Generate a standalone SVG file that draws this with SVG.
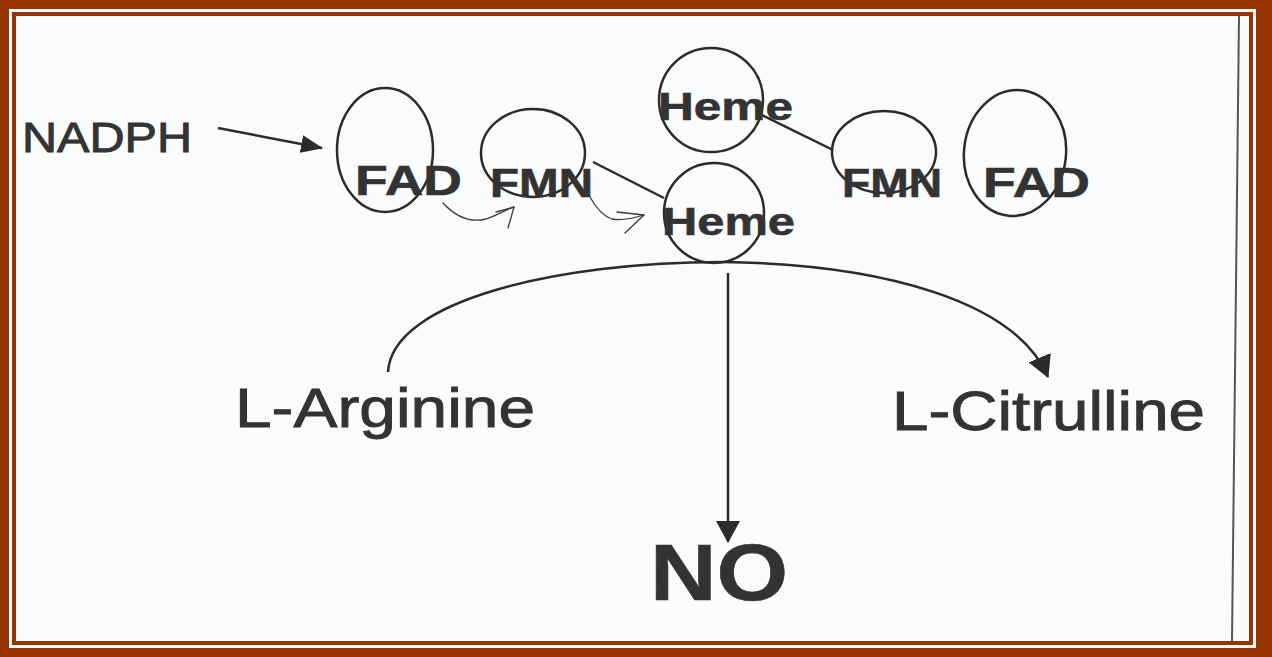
<svg xmlns="http://www.w3.org/2000/svg" width="1272" height="657" viewBox="0 0 1272 657">
<style>
.lbl{font-family:"Liberation Sans",Arial,sans-serif;fill:#333333;stroke:#333333;stroke-width:0.9}
.b{font-weight:bold;stroke-width:0.6}
.ring{fill:none;stroke:#2b2b2b;stroke-width:2.5}
.ln{fill:none;stroke:#2b2b2b;stroke-width:2.5}
.thin{fill:none;stroke:#3a3a3a;stroke-width:1.3;stroke-linecap:round;stroke-linejoin:round}
</style>
<defs>
<marker id="ah" viewBox="0 0 22 24" refX="21" refY="12" markerWidth="22" markerHeight="24" markerUnits="userSpaceOnUse" orient="auto">
<path d="M0,0 L22,12 L0,24 z" fill="#2b2b2b"/>
</marker>
<marker id="ahs" viewBox="0 0 22 18" refX="21" refY="9" markerWidth="22" markerHeight="18" markerUnits="userSpaceOnUse" orient="auto">
<path d="M0,0 L22,9 L0,18 z" fill="#2b2b2b"/>
</marker>
</defs>
<rect x="0" y="0" width="1272" height="657" fill="#993300"/>
<rect x="9" y="9" width="1247" height="639" fill="#ffffff"/>
<rect x="14" y="14" width="1237" height="629" fill="#f9fbfc" stroke="#993300" stroke-width="4"/>
<line x1="1239" y1="16" x2="1232" y2="641" stroke="#555555" stroke-width="2"/>

<g id="connectors">
<line class="ln" x1="218" y1="128" x2="322" y2="148" marker-end="url(#ahs)"/>
<line class="ln" x1="593" y1="162" x2="664" y2="198"/>
<line class="ln" x1="762" y1="115" x2="833" y2="150"/>
<path class="ln" d="M388,372 C392,300 560,262 722,262 C880,264 1015,300 1048,377" marker-end="url(#ah)"/>
<line class="ln" x1="728" y1="273" x2="728" y2="542" marker-end="url(#ah)"/>
<path class="thin" d="M443,203 C455,216 470,223 486,219 C495,216 503,211 514,207"/>
<path class="thin" d="M496,212 L514,207 L508,228"/>
<path class="thin" d="M590,197 C596,208 603,216 612,219 C622,221 634,218 644,215"/>
<path class="thin" d="M617,212 L644,215 L625,233"/>
</g>

<g id="nadph">
<text class="lbl" x="22" y="152" font-size="42" textLength="170" lengthAdjust="spacingAndGlyphs">NADPH</text>
</g>
<g id="fad-left">
<ellipse class="ring" cx="385" cy="150" rx="48" ry="62"/>
<text class="lbl b" x="355" y="195" font-size="42" textLength="107" lengthAdjust="spacingAndGlyphs">FAD</text>
</g>
<g id="fmn-left">
<ellipse class="ring" cx="533" cy="153" rx="52" ry="44"/>
<text class="lbl b" x="490" y="197" font-size="40" textLength="103" lengthAdjust="spacingAndGlyphs">FMN</text>
</g>
<g id="heme-top">
<circle class="ring" cx="711" cy="100" r="52"/>
<text class="lbl b" x="658" y="120" font-size="39" textLength="135" lengthAdjust="spacingAndGlyphs">Heme</text>
</g>
<g id="heme-bottom">
<circle class="ring" cx="714" cy="213" r="50"/>
<text class="lbl b" x="662" y="235" font-size="39" textLength="133" lengthAdjust="spacingAndGlyphs">Heme</text>
</g>
<g id="fmn-right">
<ellipse class="ring" cx="884" cy="152" rx="52" ry="41"/>
<text class="lbl b" x="842" y="197" font-size="40" textLength="100" lengthAdjust="spacingAndGlyphs">FMN</text>
</g>
<g id="fad-right">
<ellipse class="ring" cx="1015" cy="153" rx="51" ry="63" transform="rotate(6 1015 153)"/>
<text class="lbl b" x="983" y="197" font-size="42" textLength="107" lengthAdjust="spacingAndGlyphs">FAD</text>
</g>
<g id="l-arginine">
<text class="lbl" x="235" y="427" font-size="56" textLength="300" lengthAdjust="spacingAndGlyphs">L-Arginine</text>
</g>
<g id="l-citrulline">
<text class="lbl" x="892" y="430" font-size="56" textLength="313" lengthAdjust="spacingAndGlyphs">L-Citrulline</text>
</g>
<g id="no">
<text class="lbl b" x="650" y="600" font-size="80" textLength="138" lengthAdjust="spacingAndGlyphs">NO</text>
</g>
</svg>
